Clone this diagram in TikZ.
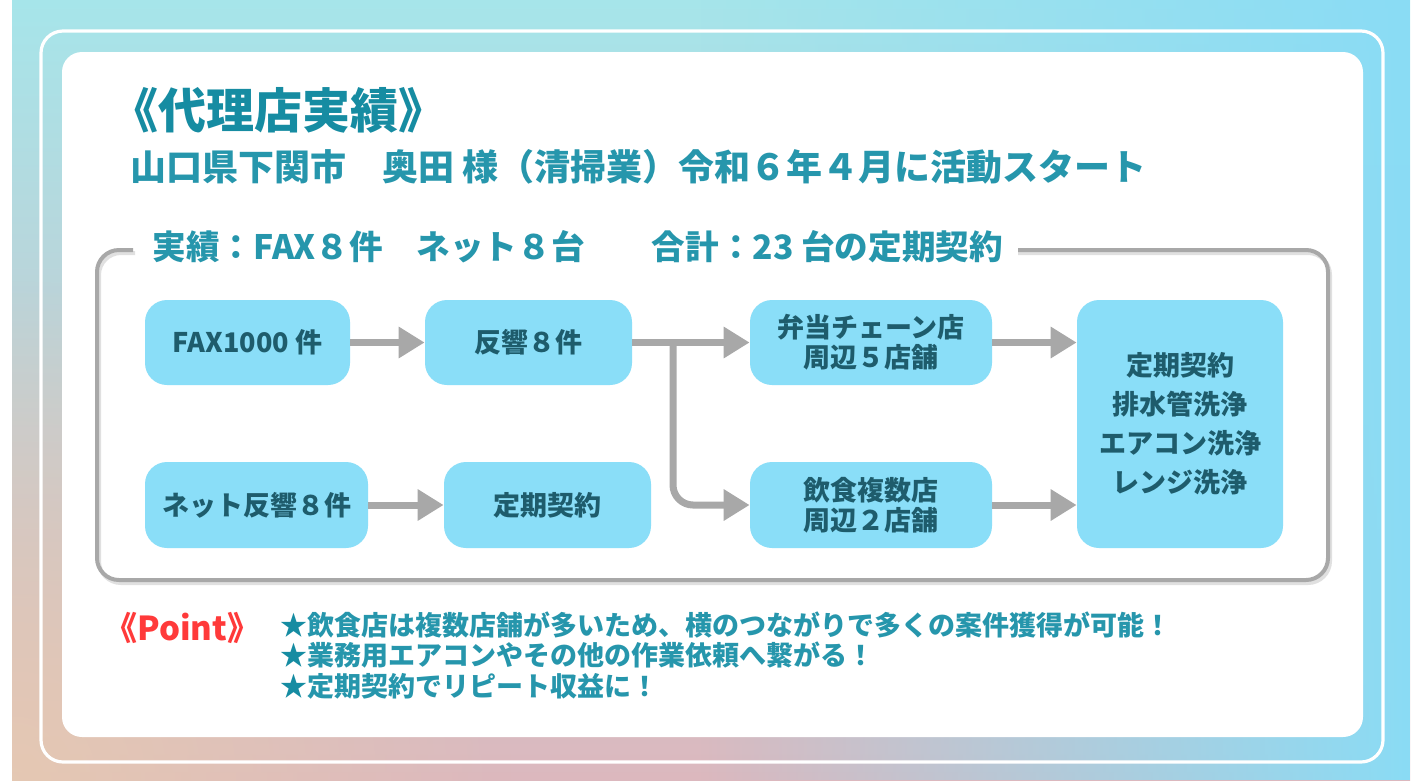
\documentclass[tikz,border=0pt]{standalone}
\usepackage{fontspec}
\setmainfont{Noto Sans CJK JP}
\usetikzlibrary{arrows.meta,fadings}
\definecolor{titleteal}{RGB}{22,140,162}
\definecolor{subteal}{RGB}{38,150,172}
\definecolor{boxblue}{RGB}{138,222,248}
\definecolor{boxtext}{RGB}{30,92,108}
\definecolor{arrgray}{RGB}{168,168,168}
\definecolor{pointred}{RGB}{255,58,58}
\definecolor{bgtop}{RGB}{166,229,234}
\definecolor{bgbot}{RGB}{220,184,190}
\definecolor{bgright}{RGB}{138,220,245}
\definecolor{bgpeach}{RGB}{230,202,178}
\tikzfading[name=myfaderight, left color=transparent!100, right color=transparent!0]
\tikzfading[name=myradial, inner color=transparent!0, outer color=transparent!100]
\tikzset{
  fbox/.style={fill=boxblue, rounded corners=11pt, inner sep=0pt, align=center,
    text=boxtext, font=\bfseries\fontsize{13.5}{15}\selectfont},
  arr/.style={draw=arrgray, line width=3.5pt, -{Triangle[length=13pt,width=15pt]}},
  grayframe/.style={draw=arrgray, line width=2pt, rounded corners=11pt},
}
\begin{document}
\begin{tikzpicture}[x=0.5pt,y=-0.5pt]
\useasboundingbox (0,0) rectangle (1419,783);
% background gradient
\fill[top color=bgtop, bottom color=bgbot] (12,0) rectangle (1410,780);
\fill[bgright, path fading=myfaderight] (700,0) rectangle (1410,780);
\begin{scope}
\clip (12,0) rectangle (1410,780);
\fill[bgpeach, path fading=myradial, opacity=0.9] (12,780) circle (500);
\end{scope}
% white frame line
\draw[white, line width=1.6pt, rounded corners=11pt] (41,31) rectangle (1383,762);
% white panel
\fill[white, rounded corners=10pt] (62,52) rectangle (1363,737);
% titles
\node[anchor=west, inner sep=0pt, text=titleteal, font=\bfseries\fontsize{24}{26}\selectfont] (title) at (110,110) {《代理店実績》};
\node[anchor=west, inner sep=0pt, text=subteal, font=\bfseries\fontsize{18}{20}\selectfont] (sub) at (130,167) {山口県下関市　奥田 様（清掃業）令和６年４月に活動スタート};
% gray frame
\draw[grayframe, draw=black!12] (135,253) -- (99,253) -- (99,583) -- (1330,583) -- (1330,253) -- (1018,253);
\draw[grayframe] (133,250) -- (97,250) -- (97,580) -- (1328,580) -- (1328,250) -- (1018,250);
\node[anchor=west, inner sep=0pt, text=subteal, font=\bfseries\fontsize{16.8}{18}\selectfont] (label) at (152,247) {実績：FAX８件　ネット８台　　合計：23 台の定期契約};
% boxes
\node[fbox, minimum width=102.5pt, minimum height=42.5pt] (fax) at (247.5,342.5) {FAX1000 件};
\node[fbox, minimum width=103.5pt, minimum height=42.5pt] (hankyo) at (528.5,342.5) {反響８件};
\node[fbox, minimum width=121pt, minimum height=42.5pt] (bento) at (871,342.5) {弁当チェーン店\\周辺５店舗};
\node[fbox, minimum width=103pt, minimum height=124pt, font=\bfseries\fontsize{13.5}{19.5}\selectfont] (final) at (1180,424) {定期契約\\排水管洗浄\\エアコン洗浄\\レンジ洗浄};
\node[fbox, minimum width=111.5pt, minimum height=43pt] (net) at (256.5,505) {ネット反響８件};
\node[fbox, minimum width=103.5pt, minimum height=43pt] (teiki) at (547.5,505) {定期契約};
\node[fbox, minimum width=121pt, minimum height=43pt] (inshoku) at (871,505) {飲食複数店\\周辺２店舗};
% arrows
\coordinate (split) at (673,342.5);
\draw[arr] (fax.east) -- (hankyo.west);
\draw[arr] (hankyo.east) -- (bento.west);
\draw[arr, rounded corners=10pt] (split) |- (inshoku.west);
\draw[arr] (bento.east) -- (bento.east -| final.west);
\draw[arr] (inshoku.east) -- (inshoku.east -| final.west);
\draw[arr] (net.east) -- (teiki.west);
% point
\node[anchor=west, inner sep=0pt, text=pointred, font=\bfseries\fontsize{16.5}{18}\selectfont] (point) at (104,628) {《Point》};
\node[anchor=north west, inner sep=0pt, align=left, text=subteal, font=\bfseries\fontsize{13.5}{15.3}\selectfont] (bullets) at (280,611) {%
\textcolor{titleteal}{★}飲食店は複数店舗が多いため、横のつながりで多くの案件獲得が可能！\\
\textcolor{titleteal}{★}業務用エアコンやその他の作業依頼へ繋がる！\\
\textcolor{titleteal}{★}定期契約でリピート収益に！};
\end{tikzpicture}
\end{document}
